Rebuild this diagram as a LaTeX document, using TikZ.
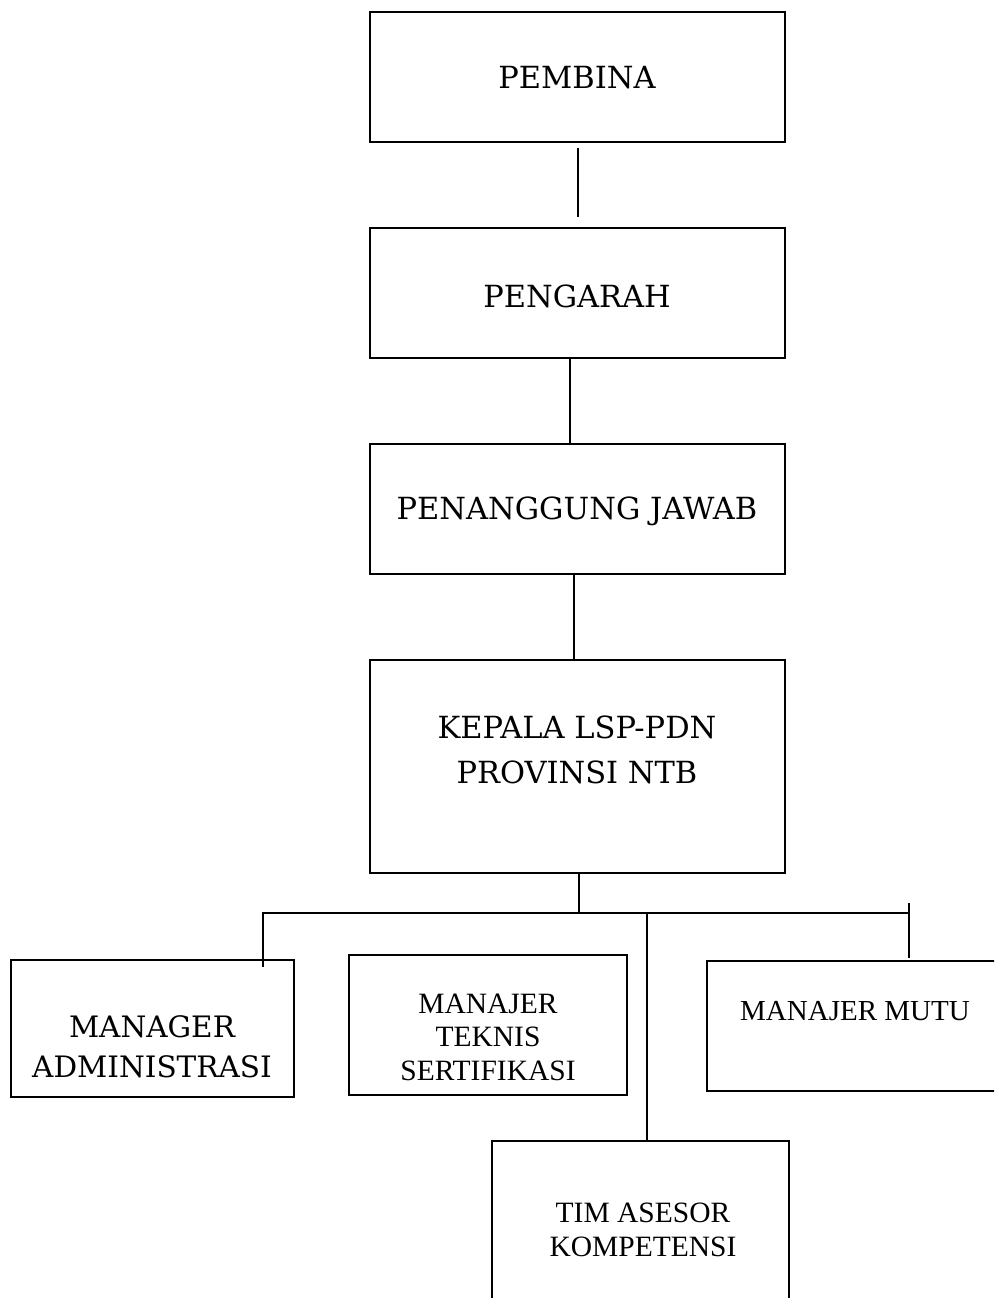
\documentclass[tikz,border=0pt]{standalone}
\usepackage{fontspec}
\setmainfont{Liberation Serif}
\newfontfamily\bookfont{DejaVu Serif}
\begin{document}
\begin{tikzpicture}[x=1pt,y=-1pt,
  box/.style={draw, line width=2.2pt, inner sep=0pt},
  lbl/.style={align=center, inner sep=0pt},
  bk/.style={font=\bookfont\fontsize{30.5}{45}\selectfont},
  con/.style={line width=2.2pt}]
\useasboundingbox (0,0) rectangle (994,1298);
\clip (0,0) rectangle (994,1298);
% boxes
\node[box, minimum width=415, minimum height=130] (pembina) at (577.5,77) {};
\node[box, minimum width=415, minimum height=130] (pengarah) at (577.5,293) {};
\node[box, minimum width=415, minimum height=130] (pj) at (577.5,509) {};
\node[box, minimum width=415, minimum height=213] (kepala) at (577.5,766.5) {};
\node[box, minimum width=283, minimum height=137] (admin) at (152.5,1028.5) {};
\node[box, minimum width=278, minimum height=140] (teknis) at (488,1025) {};
\node[box, minimum width=300, minimum height=130] (mutu) at (857,1026) {};
\node[box, minimum width=297, minimum height=200] (tim) at (640.5,1241) {};
% labels
\node[lbl, bk] (tpembina) at (577,78) {PEMBINA};
\node[lbl, bk] (tpengarah) at (577,296) {PENGARAH};
\node[lbl, bk] (tpj) at (577,511) {PENANGGUNG JAWAB};
\node[lbl, bk] (tkepala) at (577,750) {KEPALA LSP-PDN\\PROVINSI NTB};
\node[lbl, font=\bookfont\fontsize{29.5}{40}\selectfont] (tadmin) at (152,1047) {MANAGER\\ADMINISTRASI};
\node[lbl, font=\fontsize{29.5}{33.5}\selectfont] (tteknis) at (488,1037) {MANAJER\\TEKNIS\\SERTIFIKASI};
\node[lbl, font=\fontsize{29}{34}\selectfont] (tmutu) at (855,1011) {MANAJER MUTU};
\node[lbl, font=\fontsize{29.5}{34}\selectfont] (ttim) at (643,1230) {TIM ASESOR\\KOMPETENSI};
% connectors
\coordinate (c1) at (578,148);
\coordinate (c2) at (578,217);
\draw[con] (c1) -- (c2);
\draw[con] (pengarah.south -| 570,0) -- (pj.north -| 570,0);
\draw[con] (pj.south -| 574,0) -- (kepala.north -| 574,0);
\coordinate (bus) at (579,913);
\coordinate (busL) at (263,913);
\coordinate (busR) at (909,913);
\coordinate (ltop) at (263,967);
\coordinate (rtop) at (909,903);
\coordinate (rbot) at (909,958);
\draw[con] (kepala.south -| bus) -- (bus);
\draw[con] (ltop) -- (busL) -- (busR);
\draw[con] (rtop) -- (rbot);
\draw[con] (647,913) -- (tim.north -| 647,0);
\end{tikzpicture}
\end{document}
